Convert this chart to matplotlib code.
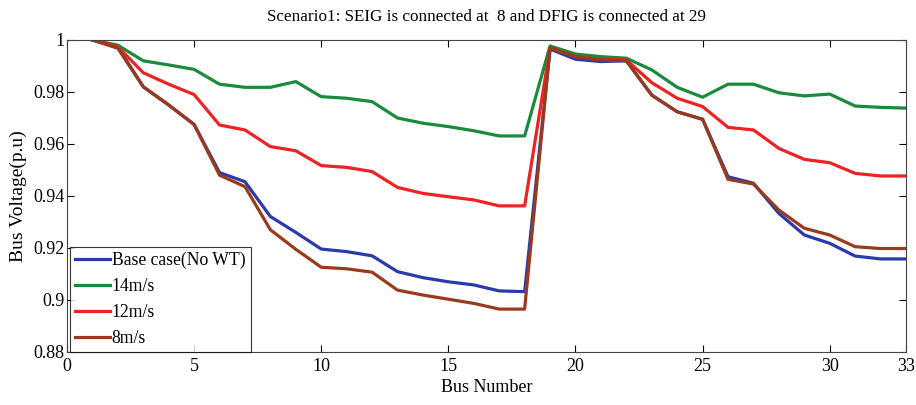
import matplotlib
matplotlib.use("Agg")
import matplotlib.pyplot as plt
import numpy as np

bus = list(range(1, 34))
base = [1.0, 0.9973, 0.982, 0.975, 0.9675, 0.949, 0.9455, 0.9321, 0.926, 0.9196,
        0.9186, 0.917, 0.9109, 0.9086, 0.907, 0.9058, 0.9035, 0.9032, 0.9965, 0.9926,
        0.9917, 0.992, 0.9788, 0.9724, 0.9695, 0.9474, 0.9449, 0.9333, 0.925, 0.9218,
        0.9169, 0.9158, 0.9158]
v14 = [1.0, 0.998, 0.992, 0.9904, 0.9887, 0.983, 0.9818, 0.9818, 0.984, 0.9782,
       0.9776, 0.9763, 0.970, 0.968, 0.9667, 0.9651, 0.9631, 0.9631, 0.9977, 0.9946,
       0.9936, 0.993, 0.9885, 0.9818, 0.978, 0.983, 0.983, 0.9797, 0.9785, 0.9792,
       0.9746, 0.9741, 0.9738]
v12 = [1.0, 0.9974, 0.9874, 0.983, 0.979, 0.9673, 0.9654, 0.959, 0.9574, 0.9517,
       0.951, 0.9494, 0.9433, 0.941, 0.9397, 0.9385, 0.9362, 0.9362, 0.997, 0.9936,
       0.9926, 0.9923, 0.9836, 0.9776, 0.9744, 0.9664, 0.9654, 0.9583, 0.9541, 0.9528,
       0.9487, 0.9477, 0.9477]
v8 = [1.0, 0.9968, 0.982, 0.975, 0.9675, 0.948, 0.9436, 0.927, 0.9195, 0.9126,
      0.912, 0.9107, 0.9038, 0.9019, 0.9003, 0.8987, 0.8965, 0.8965, 0.997, 0.9936,
      0.9923, 0.992, 0.9788, 0.9724, 0.9695, 0.9464, 0.9446, 0.9346, 0.9276, 0.925,
      0.9205, 0.9198, 0.9198]

labels = ["Base case(No WT)", "14m/s", "12m/s", "8m/s"]
colors = ["#2a3aaa", "#1b8a3c", "#ee2222", "#9a3a1c"]
xticks = [0, 5, 10, 15, 20, 25, 30, 33]
yticks = [0.88, 0.9, 0.92, 0.94, 0.96, 0.98, 1.0]
ytick_labels = ["0.88", "0.9", "0.92", "0.94", "0.96", "0.98", "1"]

plt.rcParams['font.family'] = ['Liberation Serif', 'DejaVu Serif']

fig = plt.figure(figsize=(9.16, 4.05), dpi=100)
ax = fig.add_axes([67/916, 53/405, 839/916, 312/405])

for series, lab, col in zip([base, v14, v12, v8], labels, colors):
    ax.plot(bus, series, color=col, lw=2.3, label=lab)

ax.set_xlim(0, 33)
ax.set_ylim(0.88, 1.0)
ax.set_xticks(xticks)
ax.set_xticklabels([str(t) for t in xticks])
ax.set_yticks(yticks)
ax.set_yticklabels(ytick_labels)
ax.tick_params(direction='in', top=True, right=True, labelsize=13, length=5, width=0.8)
ax.tick_params(axis='y', pad=2)
ax.tick_params(axis='x', pad=4)
for s in ax.spines.values():
    s.set_linewidth(0.8)
    s.set_color('#444444')

ax.set_xlabel("Bus Number", fontsize=13, labelpad=3)
ax.set_ylabel("Bus Voltage(p.u)", fontsize=14, labelpad=4)
ax.set_title("Scenario1: SEIG is connected at  8 and DFIG is connected at 29", fontsize=12.3, pad=14)

leg = ax.legend(loc='lower left', fontsize=12.7, frameon=True, fancybox=False,
                edgecolor='black', borderaxespad=0.0, handlelength=2.0,
                handletextpad=0.1, labelspacing=0.5, borderpad=0.3,
                bbox_to_anchor=(0.003, 0.0))
leg.get_frame().set_linewidth(0.8)

fig.savefig("out.png", dpi=100)
